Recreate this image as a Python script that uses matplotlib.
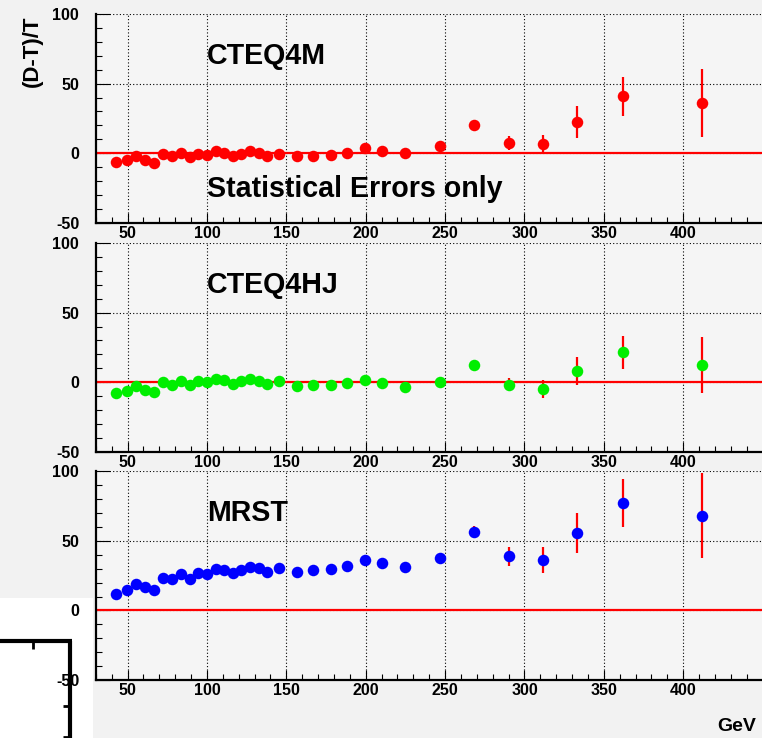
import numpy as np
import matplotlib.pyplot as plt
from matplotlib.patches import Rectangle
from matplotlib.lines import Line2D
from matplotlib.ticker import MultipleLocator

plt.rcParams['font.family'] = ['Liberation Sans', 'DejaVu Sans']
plt.rcParams['font.weight'] = 'bold'
plt.rcParams['axes.unicode_minus'] = False

# jet ET bin centres (GeV)
et = [43, 49.5, 55, 61, 66.5, 72, 78, 83.5, 89, 94.5, 100, 105.5, 111, 116.5,
      121.5, 127, 132.5, 138, 145.5, 156.5, 167, 178, 188.5, 199.5, 210, 225,
      247, 268.5, 290, 311.5, 333, 362, 412]

# (D-T)/T in percent, one list per PDF set
cteq4m = [-6.0, -4.8, -1.9, -4.6, -7.2, -0.5, -1.9, 0.5, -2.9, -0.5, -1.0, 1.4,
          0.2, -1.9, -0.5, 1.4, 0.0, -2.2, -0.5, -2.2, -1.9, -1.4, 0.0, 3.8,
          1.9, 0.0, 5.5, 20.4, 7.5, 6.3, 22.4, 40.9, 36.1]
cteq4m_err = [0.4, 0.4, 0.4, 0.5, 0.5, 0.5, 0.5, 0.6, 0.6, 0.6, 0.7, 0.7,
              0.7, 0.8, 0.8, 0.9, 0.9, 1.0, 1.0, 1.1, 1.2, 1.3, 1.4, 1.6,
              1.8, 2.0, 2.4, 3.0, 5.0, 7.0, 11.3, 14.0, 24.4]

cteq4hj = [-7.7, -6.3, -2.6, -5.3, -7.0, 0.0, -1.7, 1.2, -2.2, 0.7, 0.0, 2.6,
           1.4, -1.0, 0.7, 2.6, 1.2, -1.4, 0.7, -2.4, -1.9, -1.9, -0.7, 1.9,
           -0.5, -3.4, 0.2, 12.3, -1.7, -4.8, 8.2, 21.4, 12.5]
cteq4hj_err = [0.4, 0.4, 0.4, 0.5, 0.5, 0.5, 0.5, 0.6, 0.6, 0.6, 0.7, 0.7,
               0.7, 0.8, 0.8, 0.9, 0.9, 1.0, 1.0, 1.1, 1.2, 1.3, 1.4, 1.6,
               1.8, 2.0, 2.3, 2.8, 4.6, 6.4, 9.9, 12.0, 20.0]

mrst = [11.8, 14.9, 19.0, 16.8, 14.9, 23.6, 22.6, 26.4, 22.8, 26.7, 26.0, 30.0,
        28.8, 26.9, 29.1, 31.5, 30.3, 27.4, 30.3, 27.6, 29.1, 29.6, 32.0, 36.3,
        34.1, 31.3, 37.7, 56.5, 38.9, 36.3, 56.0, 77.4, 68.3]
mrst_err = [0.5, 0.5, 0.5, 0.6, 0.6, 0.6, 0.7, 0.7, 0.7, 0.8, 0.8, 0.9,
            0.9, 1.0, 1.0, 1.1, 1.1, 1.2, 1.3, 1.4, 1.5, 1.6, 1.8, 2.0,
            2.2, 2.5, 3.0, 4.6, 6.9, 9.6, 14.4, 17.5, 30.3]

panels = [
    ('CTEQ4M', cteq4m, cteq4m_err, '#ff0000'),
    ('CTEQ4HJ', cteq4hj, cteq4hj_err, '#00ee00'),
    ('MRST', mrst, mrst_err, '#0000ff'),
]
x_ticks = [50, 100, 150, 200, 250, 300, 350, 400]

bg = '#f2f2f2'
fig = plt.figure(figsize=(7.62, 7.38), dpi=100, facecolor=bg)

# leftover frame from the slide underneath
fig.patches.append(Rectangle((0, 0), 93 / 762, 140 / 738, transform=fig.transFigure,
                             facecolor='white', edgecolor='none', zorder=-2))
frame_lines = [
    ([0, 72 / 762], [1 - 641 / 738] * 2, 3),
    ([70 / 762] * 2, [1 - 641 / 738, 0], 3),
    ([33 / 762] * 2, [1 - 641 / 738, 1 - 649 / 738], 2),
    ([63 / 762, 70 / 762], [1 - 706 / 738] * 2, 2),
    ([63 / 762, 70 / 762], [1 - 737 / 738] * 2, 2),
]
for xs, ys, w in frame_lines:
    fig.lines.append(Line2D(xs, ys, transform=fig.transFigure, color='black',
                            lw=w, solid_capstyle='butt', zorder=-1))

bottoms = [0.6982, 0.3879, 0.0786]
left, width, height = 0.1258, 0.875, 0.2826

for (name, vals, errs, col), b in zip(panels, bottoms):
    ax = fig.add_axes([left, b, width, height])
    ax.set_zorder(1)
    ax.set_facecolor('#f5f5f5')
    ax.set_xlim(30, 450)
    ax.set_ylim(-50, 100)

    ax.axhline(0, color='#ff0000', lw=1.6, zorder=2)
    ax.errorbar(et, vals, yerr=errs, fmt='o', color=col, ecolor='#ff0000',
                elinewidth=1.6, capsize=0, markersize=8.3, markeredgewidth=0,
                zorder=3)

    ax.set_xticks(x_ticks)
    ax.xaxis.set_minor_locator(MultipleLocator(10))
    ax.yaxis.set_major_locator(MultipleLocator(50))
    ax.yaxis.set_minor_locator(MultipleLocator(10))
    ax.grid(True, which='major', color='black', linestyle=(0, (1, 2)), lw=0.8)
    ax.set_axisbelow(True)

    ax.tick_params(which='both', direction='in', top=False, right=False,
                   labelsize=11.5, width=0.8, color='black')
    ax.tick_params(axis='x', which='major', length=7, pad=2.5)
    ax.tick_params(axis='x', which='minor', length=4)
    ax.tick_params(axis='y', which='major', length=10, pad=12)
    ax.tick_params(axis='y', which='minor', length=4.5)
    for lab in ax.get_xticklabels() + ax.get_yticklabels():
        lab.set_fontweight('bold')

    for side in ('top', 'right'):
        ax.spines[side].set_visible(False)
    for side in ('left', 'bottom'):
        ax.spines[side].set_linewidth(1.6)

    ax.text(100, 70, name, fontsize=20.6, fontweight='bold', ha='left', va='center')
    if name == 'CTEQ4M':
        ax.text(100, -25.5, 'Statistical Errors only', fontsize=20.6,
                fontweight='bold', ha='left', va='center')

fig.text(0.042, 0.93, '(D-T)/T', rotation=90, fontsize=16, fontweight='bold',
         ha='center', va='center')
fig.text(0.941, 0.015, 'GeV', fontsize=14, fontweight='bold', ha='left',
         va='center')

fig.savefig('out.png', dpi=100, facecolor=bg)
